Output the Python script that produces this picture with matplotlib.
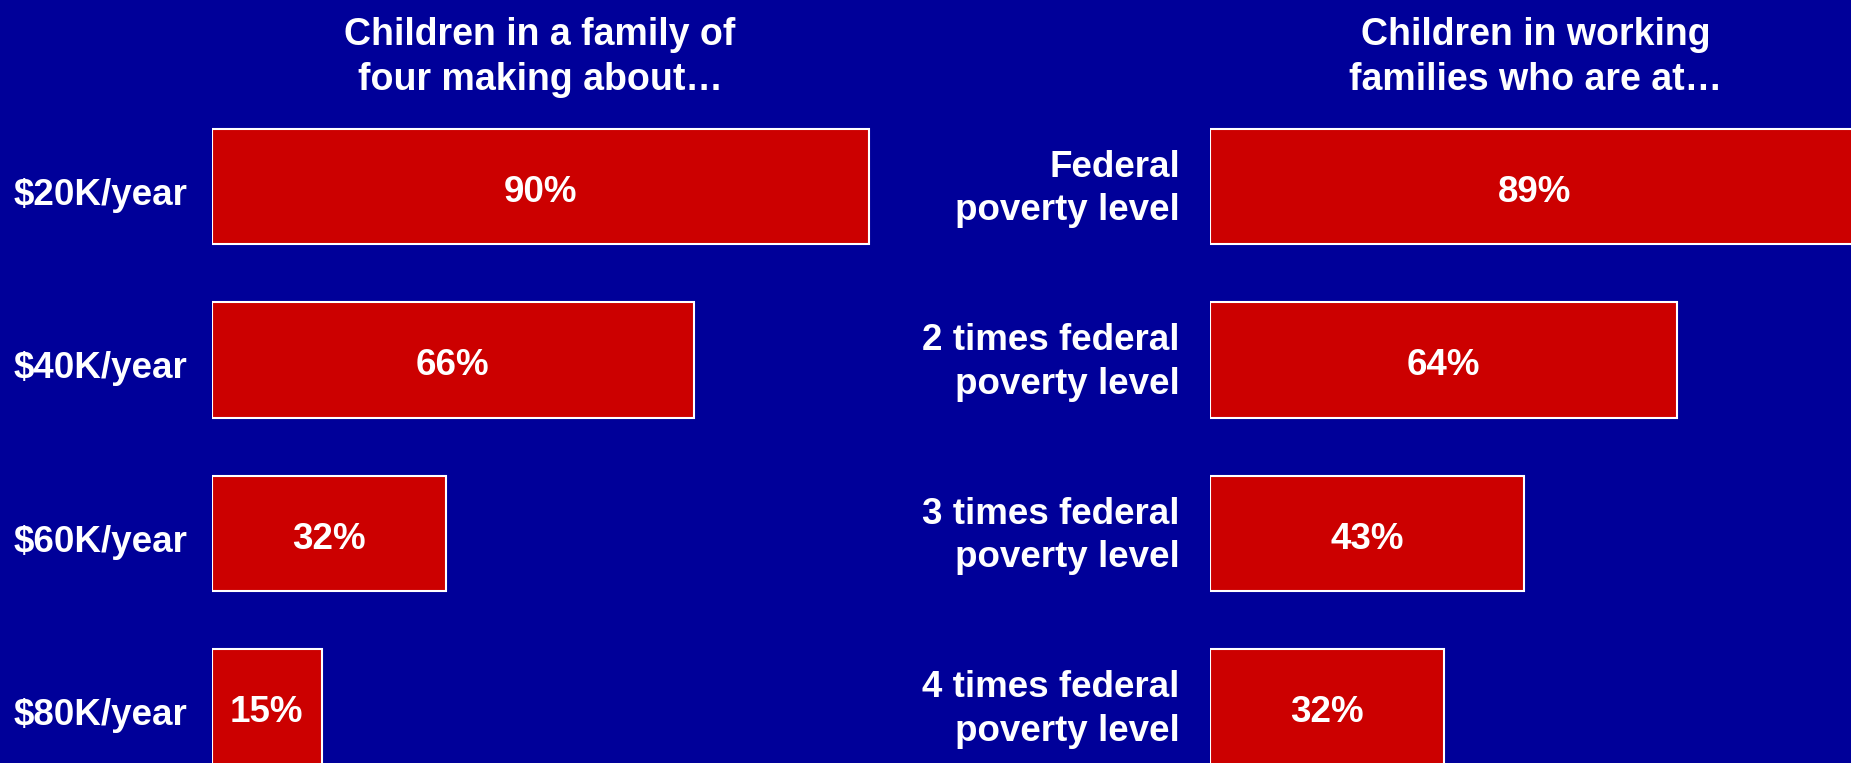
import matplotlib
matplotlib.use('Agg')
import matplotlib.pyplot as plt
from matplotlib.transforms import ScaledTranslation

# data
income_labels = ['$20K/year', '$40K/year', '$60K/year', '$80K/year']
income_values = [90, 66, 32, 15]
fpl_labels = ['Federal\npoverty level', '2 times federal\npoverty level',
              '3 times federal\npoverty level', '4 times federal\npoverty level']
fpl_values = [89, 64, 43, 32]
titles = ['Children in a family of\nfour making about\u2026',
          'Children in working\nfamilies who are at\u2026']

BG = '#000099'
RED = '#CC0000'
W, H = 1851, 763

plt.rcParams['font.family'] = ['Liberation Sans', 'DejaVu Sans']
plt.rcParams['font.weight'] = 'bold'
FS = 26.5

fig = plt.figure(figsize=(W / 100, H / 100), dpi=100, facecolor=BG)

# px positions of the two bar areas (100% = 730 px); pad and vertical nudge of the labels
panels = [
    (212, income_labels, income_values, titles[0], 540, 17.8, -3.6),
    (1210, fpl_labels, fpl_values, titles[1], 1536, 21.7, 4.3),
]

for left, labels, values, title, tx, pad, dy in panels:
    ax = fig.add_axes([left / W, 0, 730 / W, 1])
    ax.set_facecolor(BG)
    pos = list(range(len(values)))
    bars = ax.barh(pos, values, height=0.667, color=RED, edgecolor='white', linewidth=1.5)
    anns = ax.bar_label(bars, labels=[f'{v}%' for v in values], label_type='center',
                        color='white', fontsize=FS, fontweight='bold')
    for a in anns:
        a.xyann = (0, -4.3)
    ax.set_xlim(0, 100)
    ax.set_ylim(3.323, -1.075)
    ax.set_yticks(pos, labels)
    ax.tick_params(axis='y', length=0, pad=pad, labelsize=FS, labelcolor='white')
    for lbl in ax.get_yticklabels():
        lbl.set_linespacing(1.32)
        lbl.set_transform(lbl.get_transform() + ScaledTranslation(0, dy / 72, fig.dpi_scale_trans))
    ax.set_xticks([])
    for s in ax.spines.values():
        s.set_visible(False)
    fig.text(tx / W, 1 - 57.5 / H, title, ha='center', va='center', color='white',
             fontsize=27, fontweight='bold', linespacing=1.34)

fig.savefig('out.png', dpi=100, facecolor=BG)
